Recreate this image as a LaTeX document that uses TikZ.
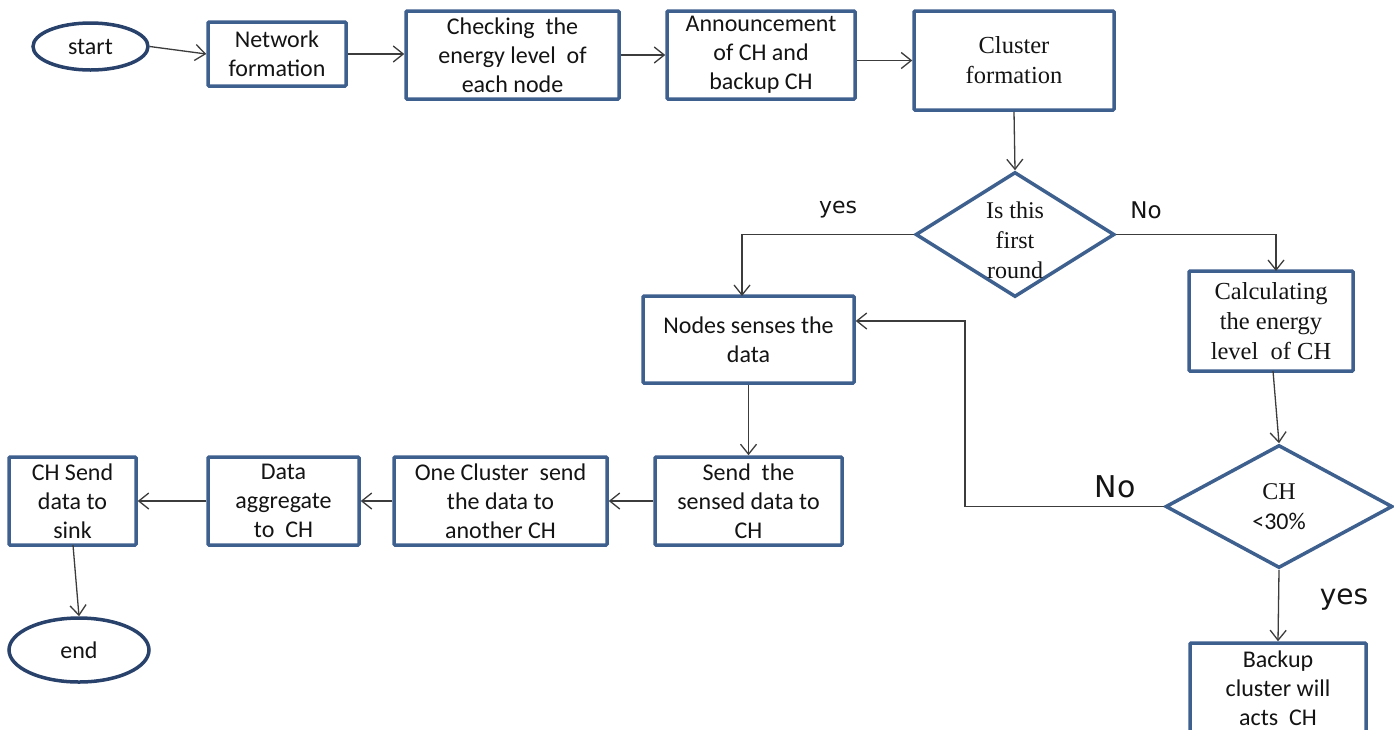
\documentclass[tikz,border=0pt]{standalone}
\usepackage{fontspec}
\setmainfont{Carlito}
\newfontfamily\tms{Liberation Serif}
\newfontfamily\lab{DejaVu Sans}
\usetikzlibrary{arrows.meta,shapes.geometric}
\definecolor{boxc}{RGB}{62,96,142}
\definecolor{ovalc}{RGB}{40,66,108}
\definecolor{linec}{RGB}{60,60,60}
\definecolor{txt}{RGB}{20,20,20}
\tikzset{
  box/.style={draw=boxc, line width=3.5pt, rectangle, rounded corners=1pt, inner sep=0pt, align=center, text=txt, font=\fontsize{24}{29}\selectfont},
  tbox/.style={box, font=\tms\fontsize{24.5}{30}\selectfont},
  oval/.style={draw=ovalc, line width=3.5pt, ellipse, inner sep=0pt, text=txt, font=\fontsize{24}{29}\selectfont},
  dia/.style={draw=boxc, line width=3.5pt, diamond, inner sep=0pt},
  dtext/.style={align=center, text=txt, inner sep=0pt, font=\tms\fontsize{24}{30}\selectfont},
  conn/.style={draw=linec, line width=1.3pt, -{Straight Barb[length=10pt,width=16pt,line width=1.3pt]}},
  lbl/.style={text=txt, inner sep=0pt}
}
\begin{document}
\begin{tikzpicture}[x=1pt,y=-1pt]
\useasboundingbox[fill=white] (0,0) rectangle (1394,729);

% top row
\node[oval, minimum width=115pt, minimum height=47pt] (start) at (90.5,46.5) {start};
\node[box, minimum width=138pt, minimum height=64pt] (net) at (277,54) {Network\\formation};
\node[box, minimum width=213pt, minimum height=88pt] (check) at (512.5,55) {Checking\ \ the\\energy level\ \ of\\each node};
\node[box, minimum width=188pt, minimum height=88pt] (ann) at (761,55) {Announcement\\of CH and\\backup CH};
\node[tbox, minimum width=200pt, minimum height=99pt] (clus) at (1014,60.5) {Cluster\\formation};

% first decision
\node[dia, minimum width=199pt, minimum height=125pt] (d1) at (1015,234.5) {};
\node[dtext] (d1t) at (1015,240) {Is this\\first\\round};

% middle
\node[box, minimum width=211pt, minimum height=87pt] (nodes) at (748.5,339.5) {Nodes senses the\\data};
\node[tbox, minimum width=164pt, minimum height=100pt] (calc) at (1271,321) {Calculating\\the energy\\level\ \ of CH};

% second decision
\node[dia, minimum width=227pt, minimum height=123pt] (d2) at (1279,506.5) {};
\node[dtext] (d2t) at (1279,507) {CH\\{\rmfamily <30\%}};

\node[box, minimum width=176pt, minimum height=90pt] (backup) at (1278,688) {Backup\\cluster will\\acts\ \ CH};

% bottom row
\node[box, minimum width=187pt, minimum height=88pt] (send) at (748.5,501) {Send\ \ the\\sensed data to\\CH};
\node[box, minimum width=213pt, minimum height=88pt] (one) at (500.5,501) {One Cluster\ \ send\\the data to\\another CH};
\node[box, minimum width=151pt, minimum height=88pt] (agg) at (283.5,501) {Data\\aggregate\\to\ \ CH};
\node[box, minimum width=127pt, minimum height=88pt] (chsend) at (72.5,501) {CH Send\\data to\\sink};
\node[oval, minimum width=140pt, minimum height=64pt] (end) at (79,650) {end};

% labels
\node[lbl, font=\lab\fontsize{22}{26}\selectfont] (yes1) at (838,210) {yes};
\node[lbl, font=\lab\fontsize{23}{26}\selectfont] (no1) at (1146,210) {No};
\node[lbl, font=\lab\fontsize{30}{34}\selectfont] (no2) at (1115,487) {No};
\node[lbl, font=\lab\fontsize{28}{32}\selectfont] (yes2) at (1344,600) {yes};

% helper coordinates
\coordinate (nodesin) at (742,296);
\coordinate (calcin) at (1276,271);
\coordinate (calcout) at (1273,371);
\coordinate (fb) at (965,321);
\coordinate (chout) at (73,545);

% connectors
\draw[conn] (start.east) -- (net.west);
\draw[conn] (net.east) -- (net.east -| check.west);
\draw[conn] (check.east) -- (check.east -| ann.west);
\draw[conn] (ann.east |- clus.west) -- (clus.west);
\draw[conn] (clus.south) -- (d1.north);
\draw[conn] (d1.west) -| (nodesin);
\draw[conn] (d1.east) -| (calcin);
\draw[conn] (calcout) -- (d2.north);
\draw[conn] (d2.west) -| (fb) -- (fb -| nodes.east);
\draw[conn] (d2.south) -- (backup.north);
\draw[conn] (nodes.south) -- (send.north);
\draw[conn] (send.west) -- (one.east);
\draw[conn] (one.west) -- (agg.east);
\draw[conn] (agg.west) -- (chsend.east);
\draw[conn] (chout) -- (end.north);
\end{tikzpicture}
\end{document}
